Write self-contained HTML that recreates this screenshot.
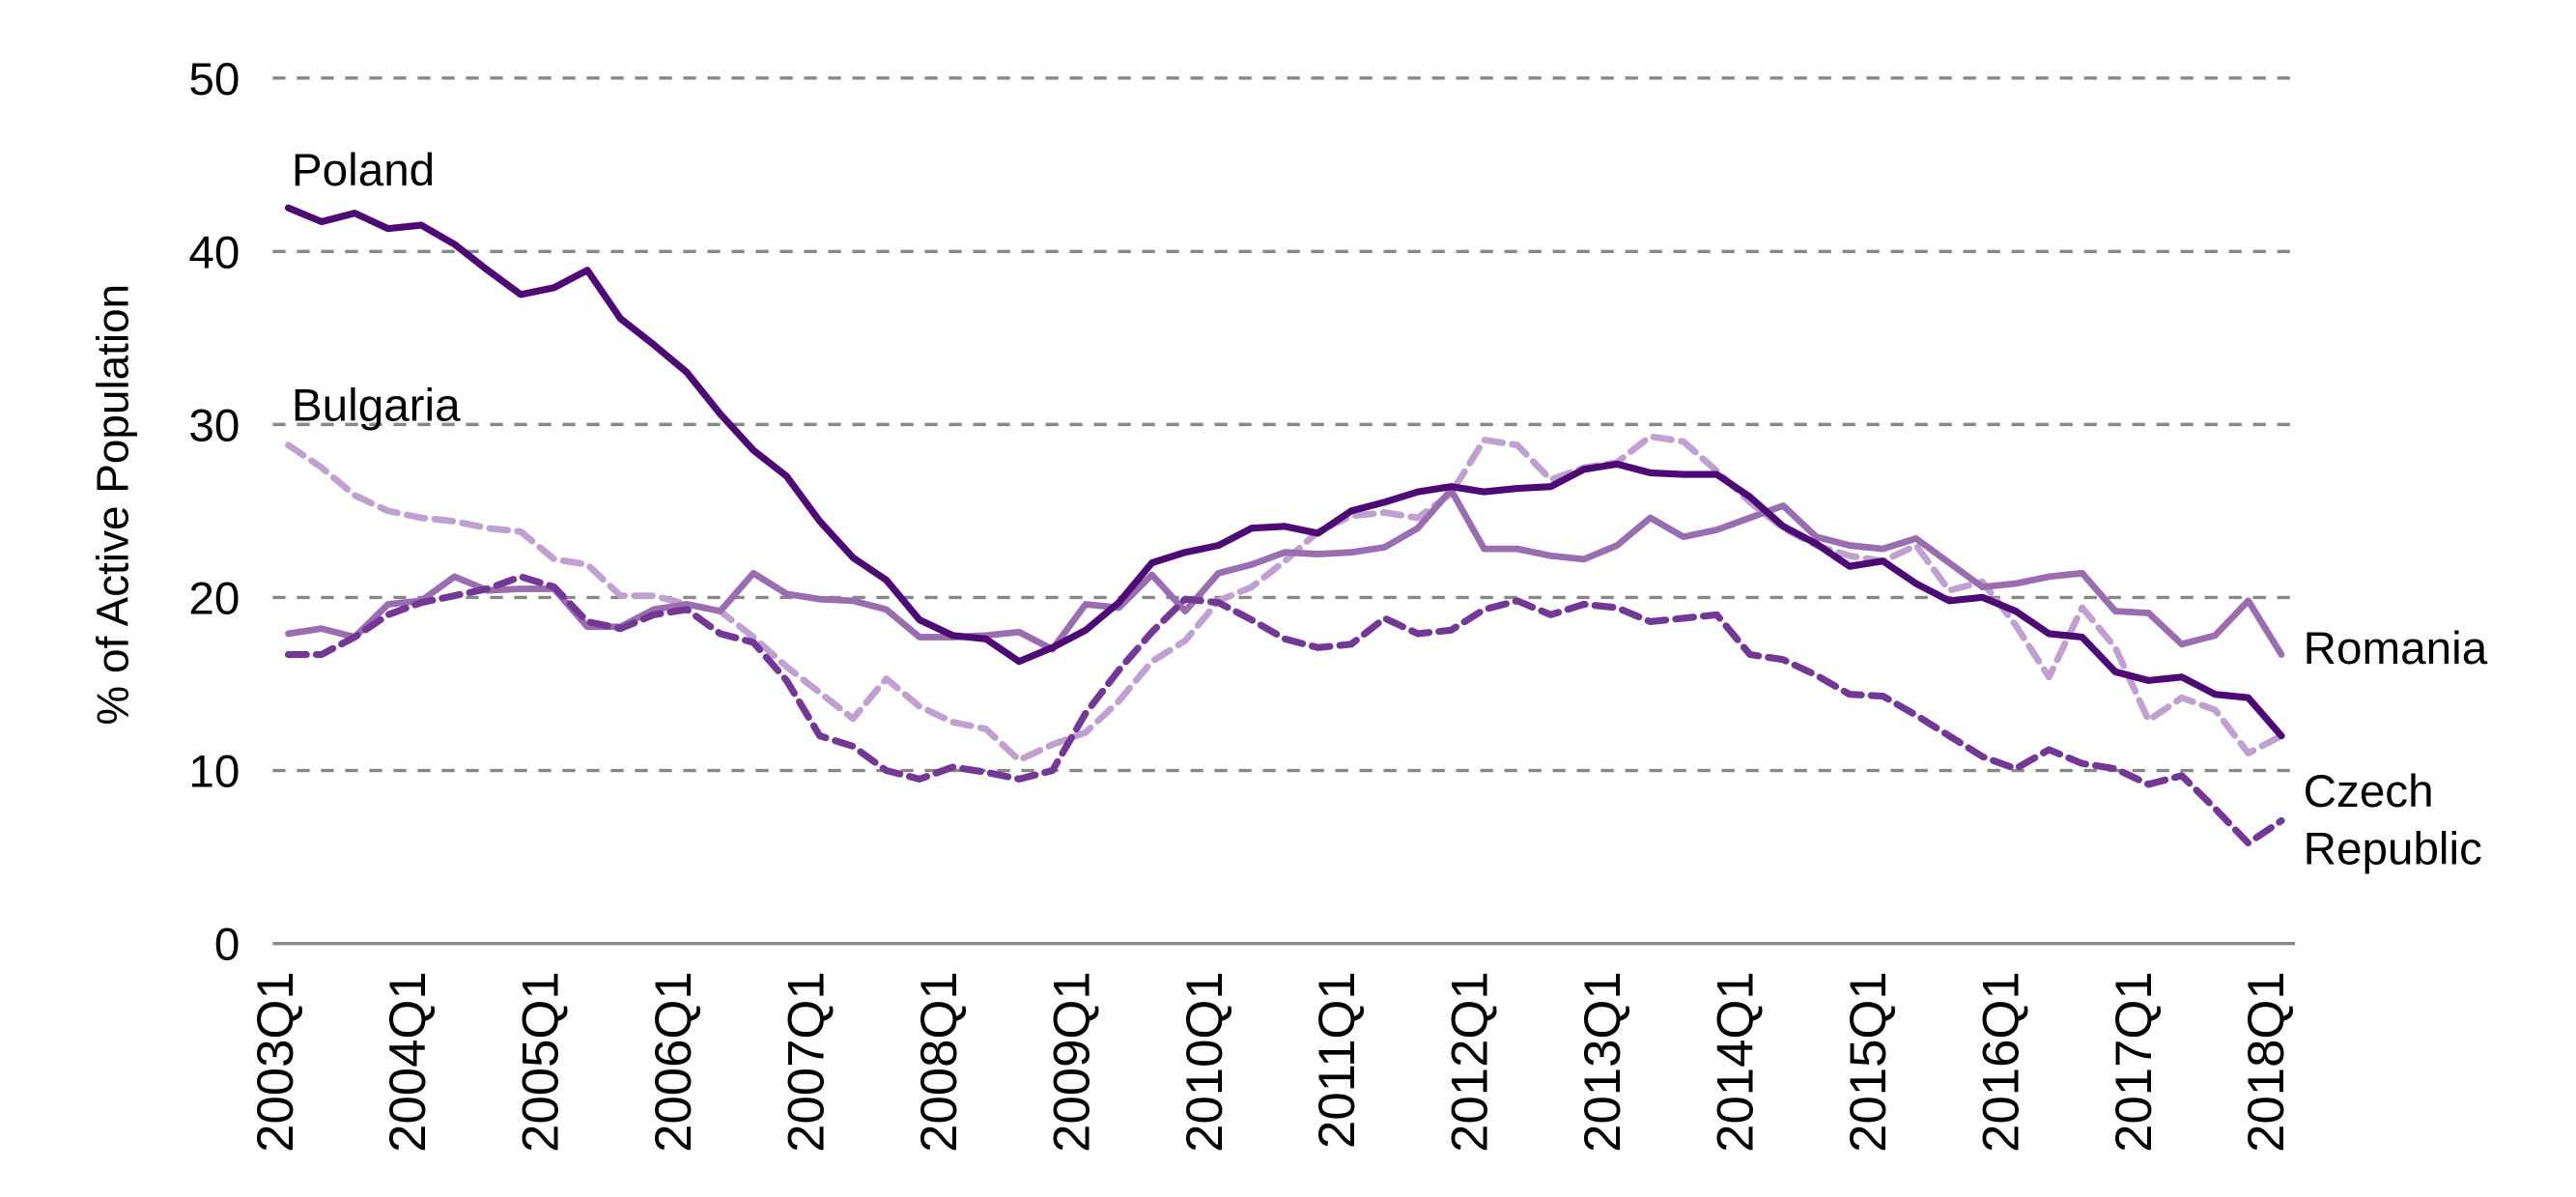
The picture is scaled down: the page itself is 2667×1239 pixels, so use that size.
<!DOCTYPE html>
<html><head><meta charset="utf-8"><style>
html,body{margin:0;padding:0;background:#fff;}
svg{display:block;}
text{font-family:"Liberation Sans",Arial,sans-serif;fill:#000;}
</style></head><body>
<svg id="c" width="2667" height="1239" viewBox="0 0 1568 728.4" xmlns="http://www.w3.org/2000/svg">
<g stroke="#888" stroke-width="2" stroke-dasharray="7.8 6.9">
<line x1="166" y1="47.5" x2="1394" y2="47.5"/>
<line x1="166" y1="153" x2="1394" y2="153"/>
<line x1="166" y1="258.3" x2="1394" y2="258.3"/>
<line x1="166" y1="363.6" x2="1394" y2="363.6"/>
<line x1="166" y1="468.9" x2="1394" y2="468.9"/>
</g>
<line x1="166" y1="574.2" x2="1397" y2="574.2" stroke="#888" stroke-width="2"/>
<g font-size="28" text-anchor="end">
<text x="146" y="57.5">50</text>
<text x="146" y="163">40</text>
<text x="146" y="268.3">30</text>
<text x="146" y="373.6">20</text>
<text x="146" y="478.9">10</text>
<text x="146" y="584.2">0</text>
</g>
<text transform="translate(78,307) rotate(-90)" font-size="27" text-anchor="middle">% of Active Population</text>
<g id="xt" font-size="31" text-anchor="end"></g>
<g id="series" fill="none" stroke-linejoin="round" stroke-linecap="round"></g>
<g font-size="28">
<text x="177.5" y="113">Poland</text>
<text x="177.5" y="256">Bulgaria</text>
<text x="1402" y="404">Romania</text>
<text x="1402" y="491">Czech</text>
<text x="1402" y="526">Republic</text>
</g>
</svg>
<script>
var NS="http://www.w3.org/2000/svg";
var xt=document.getElementById("xt");
for(var k=0;k<=15;k++){
  var cx=167+80.8*k+11;
  var t=document.createElementNS(NS,"text");
  t.setAttribute("transform","translate("+cx+",591) rotate(-90)");
  t.textContent=(2003+k)+"Q1";
  xt.appendChild(t);
}
function Y(v){return 574.2-v*10.534;}
function X(i){return 175.5+i*20.22;}
var data=[
 {c:"#BFA0D0",d:"11 6",w:4,v:[28.8,27.5,25.9,25.0,24.6,24.4,24.0,23.8,22.2,21.9,20.1,20.1,19.6,19.2,17.7,16.0,14.5,13.0,15.3,13.7,12.8,12.4,10.6,11.5,12.2,14.0,16.3,17.5,19.8,20.6,22.1,23.8,24.7,24.9,24.6,26.0,29.1,28.8,26.8,27.5,27.8,29.3,29.0,27.3,25.5,24.0,23.0,22.4,22.1,23.0,20.4,20.9,18.4,15.4,19.4,17.1,12.9,14.2,13.5,11.0,12.0]},
 {c:"#9A6DB0",d:null,w:4,v:[17.9,18.2,17.7,19.6,19.8,21.2,20.4,20.5,20.5,18.3,18.3,19.3,19.6,19.2,21.4,20.2,19.9,19.8,19.3,17.7,17.7,17.8,18.0,17.0,19.6,19.4,21.3,19.2,21.4,21.9,22.6,22.5,22.6,22.9,24.0,26.2,22.8,22.8,22.4,22.2,23.0,24.6,23.5,23.9,24.6,25.3,23.5,23.0,22.8,23.4,22.0,20.6,20.8,21.2,21.4,19.2,19.1,17.3,17.8,19.8,16.7]},
 {c:"#733896",d:"11 6",w:4.2,v:[16.7,16.7,17.7,19.0,19.7,20.1,20.5,21.2,20.6,18.6,18.2,19.0,19.3,17.9,17.4,15.2,12.0,11.4,10.0,9.5,10.2,9.9,9.5,10.0,13.3,15.8,18.0,19.9,19.7,18.7,17.6,17.1,17.3,18.8,17.9,18.1,19.3,19.8,19.0,19.6,19.4,18.6,18.8,19.0,16.7,16.4,15.5,14.4,14.3,13.2,12.0,10.8,10.1,11.2,10.4,10.1,9.2,9.7,7.8,5.8,7.1]},
 {c:"#4E0A74",d:null,w:4.2,v:[42.5,41.7,42.2,41.3,41.5,40.4,38.9,37.5,37.9,38.9,36.1,34.6,33.0,30.6,28.5,27.0,24.4,22.3,21.0,18.7,17.8,17.6,16.3,17.1,18.1,19.7,22.0,22.6,23.0,24.0,24.1,23.7,25.0,25.5,26.1,26.4,26.1,26.3,26.4,27.4,27.7,27.2,27.1,27.1,25.8,24.1,23.1,21.8,22.1,20.8,19.8,20.0,19.2,17.9,17.7,15.7,15.2,15.4,14.4,14.2,12.0]}
];
var g=document.getElementById("series");
data.forEach(function(s){
  var p=document.createElementNS(NS,"polyline");
  p.setAttribute("points",s.v.map(function(v,i){return X(i).toFixed(1)+","+Y(v).toFixed(1);}).join(" "));
  p.setAttribute("stroke",s.c);p.setAttribute("stroke-width",s.w);
  if(s.d)p.setAttribute("stroke-dasharray",s.d);
  g.appendChild(p);
});
</script>
</body></html>
